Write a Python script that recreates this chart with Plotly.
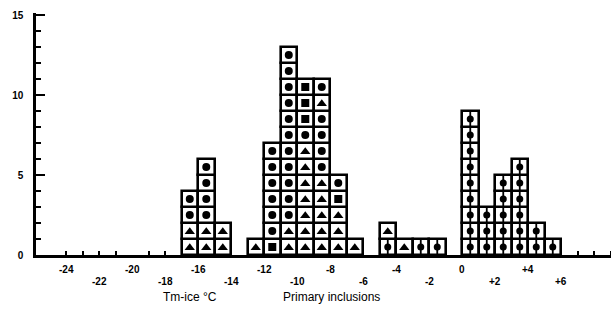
import plotly.graph_objects as go

# Histogram of ice-melting temperatures (1 °C bins), one square per inclusion.
bin_left = [-17, -16, -15, -13, -12, -11, -10, -9, -8, -7,
            -5, -4, -3, -2, 0, 1, 2, 3, 4, 5]
counts = [4, 6, 2, 1, 7, 13, 11, 11, 5, 1,
          2, 1, 1, 1, 9, 3, 5, 6, 2, 1]
# Inclusion type of each square, bottom to top:
# c = filled circle, t = triangle, s = square, p = circle with bar
cell_types = ["ttcc", "ttcccc", "tt", "t", "scccccc",
              "ttccccccccccc", "tttttttcsss", "tttttcccctc", "tttsc", "t",
              "pt", "t", "p", "p", "ppppppppp",
              "ppp", "ppppp", "pppppp", "pp", "p"]

tick_vals = [-24, -22, -20, -18, -16, -14, -12, -10, -8, -6, -4, -2, 0, 2, 4, 6]
tick_text = ["-24", "-22", "-20", "-18", "-16", "-14", "-12", "-10",
             "-8", "-6", "-4", "-2", "0", "+2", "+4", "+6"]

# Expand bins into individual cells
cx, cy, ctype = [], [], []
for left, n, types in zip(bin_left, counts, cell_types):
    assert len(types) == n
    for k, t in enumerate(types):
        cx.append(left + 0.5)
        cy.append(k)
        ctype.append(t)

fig = go.Figure()

# Square cells as unit bars stacked by base
fig.add_trace(go.Bar(
    x=cx, y=[1] * len(cx), base=cy, width=1,
    marker=dict(color="white", line=dict(color="black", width=2.6)),
    hoverinfo="skip", showlegend=False,
))

def pick(code):
    xs = [x for x, t in zip(cx, ctype) if t == code]
    ys = [y + 0.5 for y, t in zip(cy, ctype) if t == code]
    return xs, ys

xs, ys = pick("c")
fig.add_trace(go.Scatter(x=xs, y=ys, mode="markers", showlegend=False,
                         marker=dict(symbol="circle", size=8, color="black")))
xs, ys = pick("t")
fig.add_trace(go.Scatter(x=xs, y=[v - 0.05 for v in ys], mode="markers", showlegend=False,
                         marker=dict(symbol="triangle-up", size=9, color="black")))
xs, ys = pick("s")
fig.add_trace(go.Scatter(x=xs, y=ys, mode="markers", showlegend=False,
                         marker=dict(symbol="square", size=8, color="black")))
xs, ys = pick("p")
fig.add_trace(go.Scatter(x=xs, y=ys, mode="markers", showlegend=False,
                         marker=dict(symbol="circle", size=7, color="black")))
fig.add_trace(go.Scatter(x=xs, y=ys, mode="markers", showlegend=False,
                         marker=dict(symbol="line-ns", size=12,
                                     line=dict(color="black", width=1.8))))

# Staggered x tick labels
for i, (v, txt) in enumerate(zip(tick_vals, tick_text)):
    fig.add_annotation(x=v, y=0, xref="x", yref="y", text="<b>" + txt + "</b>",
                       showarrow=False,
                       yshift=-14 if i % 2 == 0 else -26,
                       font=dict(family="Liberation Sans", size=10, color="black"))

fig.add_annotation(x=-16.5, y=0, xref="x", yref="y", yshift=-42,
                   text="Tm-ice °C", showarrow=False,
                   font=dict(family="Liberation Sans", size=12, color="black"))
fig.add_annotation(x=-7.9, y=0, xref="x", yref="y", yshift=-42,
                   text="Primary inclusions", showarrow=False,
                   font=dict(family="Liberation Sans", size=12, color="black"))

fig.update_layout(
    width=611, height=333,
    margin=dict(l=36, r=0, t=13, b=78),
    paper_bgcolor="white", plot_bgcolor="white",
    bargap=0,
    xaxis=dict(range=[-25.82, 9.03], showgrid=False, zeroline=False,
               showline=True, linecolor="black", linewidth=2.5,
               showticklabels=False, ticks="",
               minor=dict(ticks="inside", dtick=1, tick0=0, ticklen=4,
                          tickcolor="black", tickwidth=1.5)),
    yaxis=dict(range=[0, 15.125], showgrid=False, zeroline=False,
               showline=True, linecolor="black", linewidth=2.5,
               tickvals=[0, 5, 10, 15], ticktext=["<b>0</b>", "<b>5</b>", "<b>10</b>", "<b>15</b>"],
               ticks="inside", ticklen=9,
               tickwidth=2, tickcolor="black", ticklabelstandoff=8,
               tickfont=dict(family="Liberation Sans", size=10, color="black"),
               minor=dict(ticks="inside", dtick=1, ticklen=5,
                          tickcolor="black", tickwidth=2)),
)

fig.write_html("out.html")
